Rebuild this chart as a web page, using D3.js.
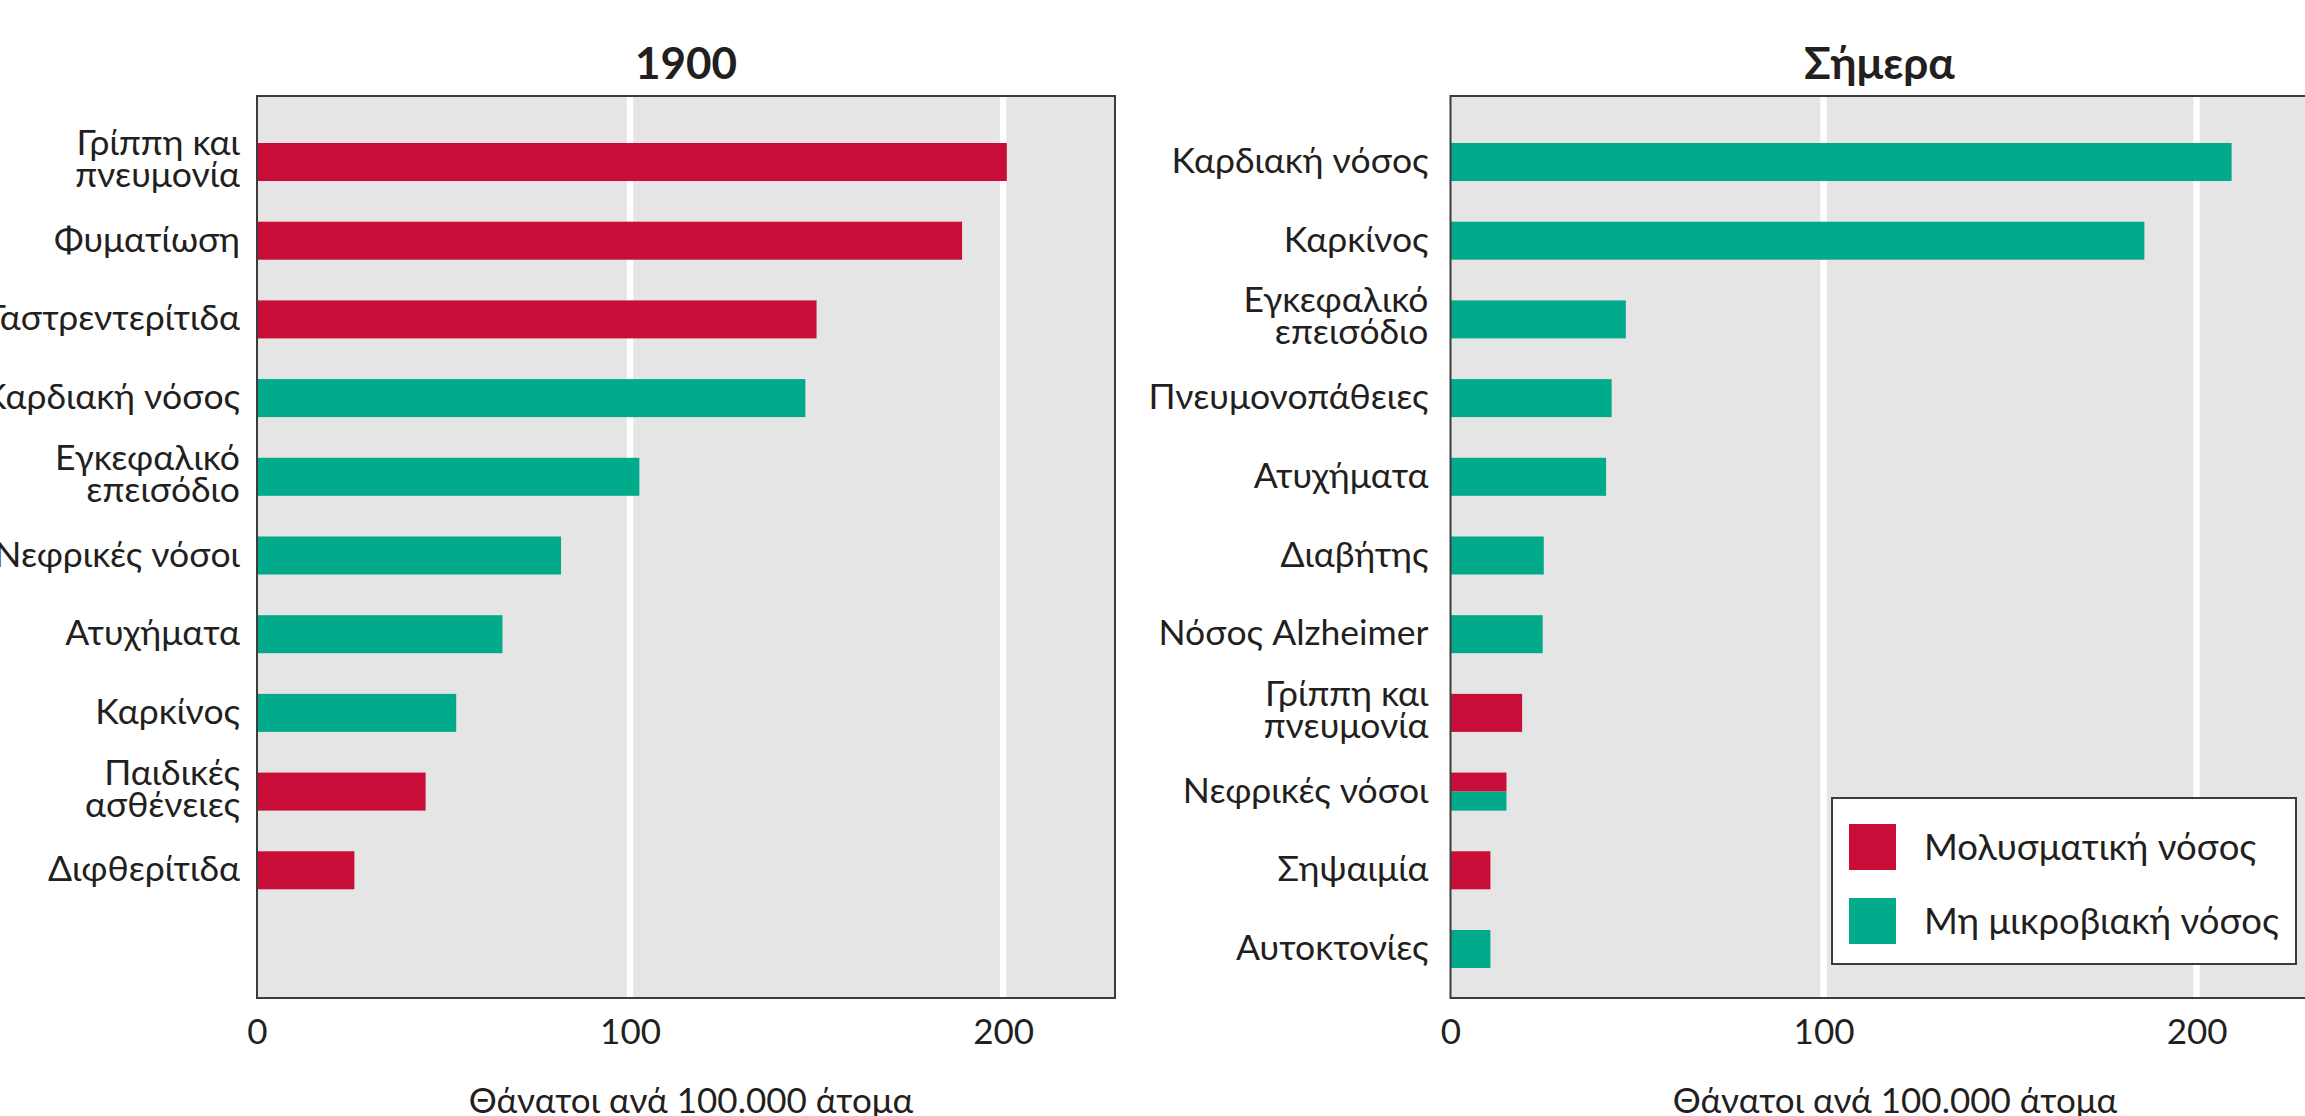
<!DOCTYPE html>
<html>
<head>
<meta charset="utf-8">
<script src="https://cdn.jsdelivr.net/npm/d3@7"></script>
<style>
  html, body { margin: 0; padding: 0; background: #fff; }
  svg { display: block; }
</style>
</head>
<body>
<svg id="chart"></svg>
<script>
// ---------------- DATA ----------------
const pastTitle = "1900";
const pastCategories = ["Γρίππη και\nπνευμονία", "Φυματίωση", "Γαστρεντερίτιδα", "Καρδιακή νόσος",
  "Εγκεφαλικό\nεπεισόδιο", "Νεφρικές νόσοι", "Ατυχήματα", "Καρκίνος", "Παιδικές\nασθένειες", "Διφθερίτιδα"];
const pastValues = [201, 189, 150, 147, 102.5, 81.5, 65.8, 53.4, 45.2, 26.1];
const pastTypes = ["inf", "inf", "inf", "non", "non", "non", "non", "non", "inf", "inf"];

const todayTitle = "Σήμερα";
const todayCategories = ["Καρδιακή νόσος", "Καρκίνος", "Εγκεφαλικό\nεπεισόδιο", "Πνευμονοπάθειες",
  "Ατυχήματα", "Διαβήτης", "Νόσος Alzheimer", "Γρίππη και\nπνευμονία", "Νεφρικές νόσοι", "Σηψαιμία", "Αυτοκτονίες"];
const todayValues = [209.4, 186, 47, 43.2, 41.7, 25, 24.7, 19.2, 15, 10.7, 10.7];
const todayTypes = ["non", "non", "non", "non", "non", "non", "non", "inf", "both", "inf", "non"];

const xTicks = [0, 100, 200];
const xDomain = [0, 230];
const slotCount = 11;
const axisTitle = "Θάνατοι ανά 100.000 άτομα";
const legendKeys = ["inf", "non"];
const legendLabels = ["Μολυσματική νόσος", "Μη μικροβιακή νόσος"];

// ---------------- STYLE / LAYOUT ----------------
const W = 2305, H = 1116;
const FONT = "Lato, 'Open Sans', 'Noto Sans', sans-serif";
const TEXT = "#231f20";
const COLORS = { inf: "#c80d38", non: "#00aa8b" };
const PLOT_BG = "#e5e5e5";
const FRAME = "#3c3c3c";

const plotTop = 96, plotBottom = 998;
const bandTop = 143, bandBottom = 968;

const panels = [
  { title: pastTitle, cats: pastCategories, vals: pastValues, types: pastTypes,
    x0: 257, x1: 1115, labelGap: 17, axisTitleX: 691 },
  { title: todayTitle, cats: todayCategories, vals: todayValues, types: todayTypes,
    x0: 1450.5, x1: 2308.5, labelGap: 22, axisTitleX: 1895 }
];

const svg = d3.select("#chart").attr("width", W).attr("height", H)
  .style("font-family", FONT);

const y = d3.scaleBand()
  .domain(d3.range(slotCount))
  .range([bandTop, bandBottom])
  .paddingInner(0.517)
  .paddingOuter(0);

panels.forEach((p, pi) => {
  const g = svg.append("g");
  const x = d3.scaleLinear().domain(xDomain).range([p.x0, p.x1]);

  // background
  g.append("rect").attr("x", p.x0).attr("y", plotTop)
    .attr("width", p.x1 - p.x0).attr("height", plotBottom - plotTop)
    .attr("fill", PLOT_BG);

  // gridlines
  g.selectAll(".grid").data(xTicks.filter(t => t > 0)).enter().append("line")
    .attr("x1", d => x(d)).attr("x2", d => x(d))
    .attr("y1", plotTop).attr("y2", plotBottom)
    .attr("stroke", "#ffffff").attr("stroke-width", 6.5);

  // bars
  p.vals.forEach((v, i) => {
    const t = p.types[i];
    const y0 = y(i), bw = y.bandwidth();
    if (t === "both") {
      g.append("rect").attr("x", x(0)).attr("y", y0)
        .attr("width", x(v) - x(0)).attr("height", bw / 2)
        .attr("fill", COLORS.inf);
      g.append("rect").attr("x", x(0)).attr("y", y0 + bw / 2)
        .attr("width", x(v) - x(0)).attr("height", bw / 2)
        .attr("fill", COLORS.non);
    } else {
      g.append("rect").attr("x", x(0)).attr("y", y0)
        .attr("width", x(v) - x(0)).attr("height", bw)
        .attr("fill", COLORS[t]);
    }
  });

  // frame
  g.append("rect").attr("x", p.x0).attr("y", plotTop)
    .attr("width", p.x1 - p.x0).attr("height", plotBottom - plotTop)
    .attr("fill", "none").attr("stroke", FRAME).attr("stroke-width", 2);

  // category labels (each line its own text element)
  p.cats.forEach((c, i) => {
    const lines = c.split("\n");
    const cy = y(i) + y.bandwidth() / 2;
    const offs = lines.length === 1 ? [11] : [-7, 25];
    lines.forEach((ln, li) => {
      g.append("text")
        .attr("x", p.x0 - p.labelGap).attr("y", cy + offs[li])
        .attr("text-anchor", "end")
        .attr("font-size", 35.5)
        .attr("fill", TEXT)
        .text(ln);
    });
  });

  // x axis tick labels
  const axis = d3.axisBottom(x).tickValues(xTicks).tickSize(0).tickPadding(21)
    .tickFormat(d3.format("d"));
  const ag = g.append("g").attr("transform", `translate(0,${plotBottom})`).call(axis);
  ag.select(".domain").remove();
  ag.selectAll("text").attr("font-size", 35).attr("font-family", FONT).attr("fill", TEXT);

  // axis title
  g.append("text").attr("x", p.axisTitleX).attr("y", 1113)
    .attr("text-anchor", "middle").attr("font-size", 35).attr("fill", TEXT)
    .text(axisTitle);

  // panel title
  g.append("text").attr("x", (p.x0 + p.x1) / 2).attr("y", 79)
    .attr("text-anchor", "middle").attr("font-size", 44).attr("font-weight", "bold")
    .attr("fill", TEXT).text(p.title);
});

// legend
const lg = svg.append("g");
lg.append("rect").attr("x", 1832).attr("y", 798).attr("width", 464).attr("height", 166)
  .attr("fill", "#ffffff").attr("stroke", FRAME).attr("stroke-width", 2);
legendKeys.forEach((k, i) => {
  const ry = 824 + i * 74;
  lg.append("rect").attr("x", 1849).attr("y", ry).attr("width", 47).attr("height", 46)
    .attr("fill", COLORS[k]);
  lg.append("text").attr("x", 1924).attr("y", ry + 36)
    .attr("font-size", 36.5).attr("fill", TEXT).text(legendLabels[i]);
});
</script>
</body>
</html>
